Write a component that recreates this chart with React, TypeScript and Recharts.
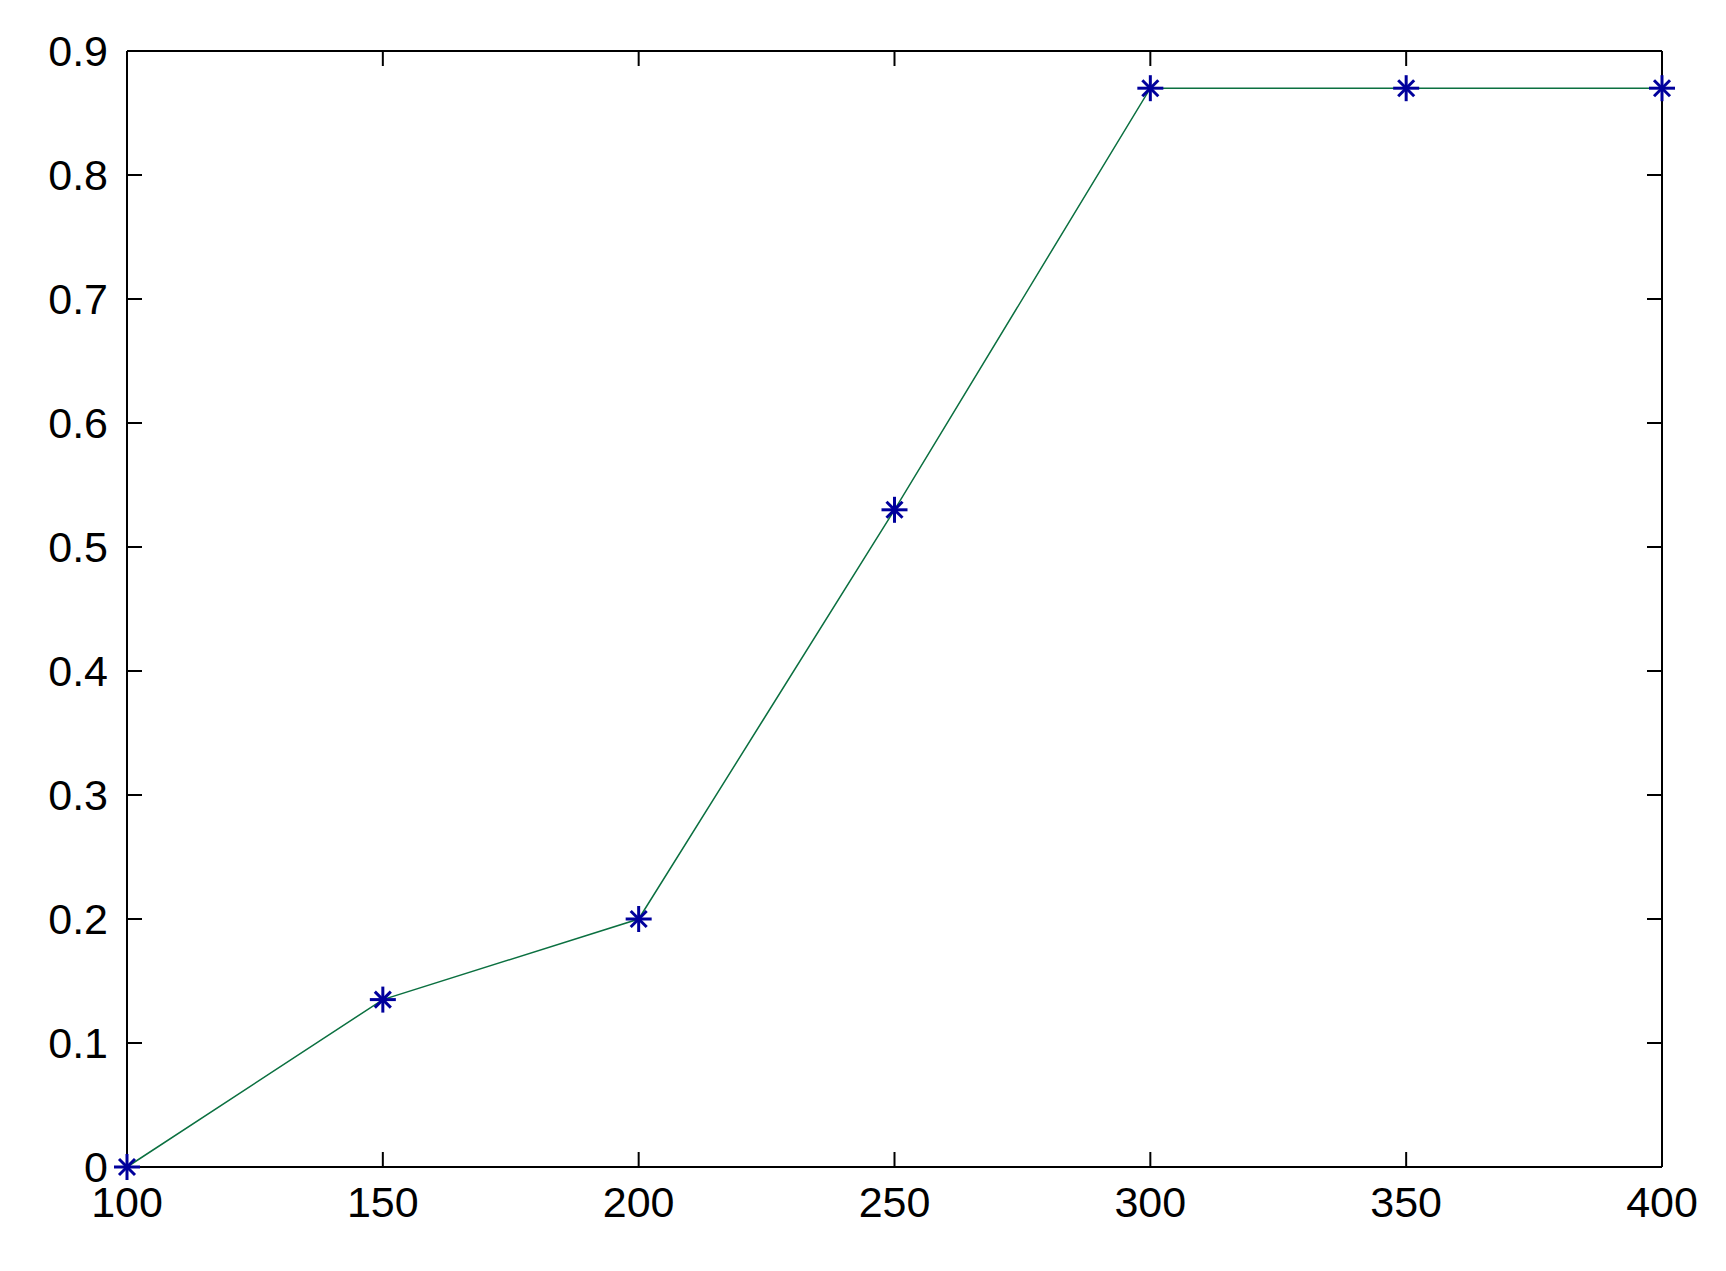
import React from 'react';
import { LineChart, Line, XAxis, YAxis, ReferenceLine } from 'recharts';

const xValues = [100, 150, 200, 250, 300, 350, 400];
const yValues = [0, 0.135, 0.2, 0.53, 0.87, 0.87, 0.87];
const xTicks = [100, 150, 200, 250, 300, 350, 400];
const yTicks = [0, 0.1, 0.2, 0.3, 0.4, 0.5, 0.6, 0.7, 0.8, 0.9];

const data = xValues.map((x, i) => ({ x, y: yValues[i] }));

const FONT = '"Liberation Sans", Arial, sans-serif';
const AXIS = { stroke: '#000', strokeWidth: 2 };
const TS = 15; // tick length in px, drawn inward

const CHART_W = 1726;
const CHART_H = 1271;
const MARGIN = { top: 51, right: 63, bottom: 0, left: 0 };
const Y_AXIS_W = 127;
const X_AXIS_H = 104;
const X_DOMAIN = [100, 400];
const Y_DOMAIN = [0, 0.9];

// tick length converted to data units, for the inward ticks on left/bottom
const plotW = CHART_W - MARGIN.left - MARGIN.right - Y_AXIS_W - 1;
const plotH = CHART_H - MARGIN.top - MARGIN.bottom - X_AXIS_H;
const xTickLen = ((X_DOMAIN[1] - X_DOMAIN[0]) * TS) / plotW;
const yTickLen = ((Y_DOMAIN[1] - Y_DOMAIN[0]) * TS) / plotH;

// asterisk marker like matlab's '*'
const StarDot = (props: any) => {
  const { cx, cy } = props;
  if (cx == null || cy == null) return null;
  const a = 13;
  const d = 8;
  return (
    <g stroke="#00009c" strokeWidth={3}>
      <line x1={cx - a} y1={cy} x2={cx + a} y2={cy} />
      <line x1={cx} y1={cy - a} x2={cx} y2={cy + a} />
      <line x1={cx - d} y1={cy - d} x2={cx + d} y2={cy + d} />
      <line x1={cx - d} y1={cy + d} x2={cx + d} y2={cy - d} />
    </g>
  );
};

// x,y from recharts sit TS outside the axis line
const BottomLabel = (props: any) => {
  const x = Number(props.x);
  const y = Number(props.y);
  return (
    <text x={x} y={y + 35} textAnchor="middle" fontFamily={FONT} fontSize={43} fill="#000">
      {props.payload.value}
    </text>
  );
};

const LeftLabel = (props: any) => {
  const x = Number(props.x);
  const y = Number(props.y);
  return (
    <text x={x - 4} y={y} dy="0.36em" textAnchor="end" fontFamily={FONT} fontSize={43} fill="#000">
      {Number(props.payload.value.toFixed(1)).toString()}
    </text>
  );
};

const RightTick = (props: any) => {
  const x = Number(props.x);
  const y = Number(props.y);
  return <line x1={x - TS} y1={y} x2={x - 2 * TS} y2={y} stroke="black" strokeWidth={2} />;
};

const NoLabel = () => <g />;

export default function App() {
  return (
    <div style={{ position: 'absolute', left: 0, top: 0, background: '#fff' }}>
      <LineChart width={CHART_W} height={CHART_H} data={data} margin={MARGIN}>
        <XAxis
          dataKey="x"
          type="number"
          domain={X_DOMAIN}
          ticks={xTicks}
          height={X_AXIS_H}
          tickSize={TS}
          tickMargin={0}
          tickLine={false}
          axisLine={AXIS}
          tick={<BottomLabel />}
          interval={0}
        />
        <XAxis
          xAxisId="top"
          dataKey="x"
          type="number"
          orientation="top"
          mirror
          domain={X_DOMAIN}
          ticks={xTicks}
          tickSize={TS}
          tickLine={AXIS}
          axisLine={AXIS}
          tick={<NoLabel />}
          interval={0}
        />
        <YAxis
          type="number"
          domain={Y_DOMAIN}
          ticks={yTicks}
          width={Y_AXIS_W}
          tickSize={TS}
          tickMargin={0}
          tickLine={false}
          axisLine={AXIS}
          tick={<LeftLabel />}
          interval={0}
        />
        <YAxis
          yAxisId="right"
          type="number"
          orientation="right"
          domain={Y_DOMAIN}
          ticks={yTicks}
          width={1}
          tickSize={TS}
          tickMargin={0}
          tickLine={false}
          axisLine={AXIS}
          tick={<RightTick />}
          interval={0}
        />
        {/* inward tick marks on the left and bottom edges */}
        {yTicks.map((v) => (
          <ReferenceLine
            key={`yt-${v}`}
            segment={[
              { x: X_DOMAIN[0], y: v },
              { x: X_DOMAIN[0] + xTickLen, y: v },
            ]}
            stroke="#000"
            strokeWidth={2}
            ifOverflow="visible"
          />
        ))}
        {xTicks.map((v) => (
          <ReferenceLine
            key={`xt-${v}`}
            segment={[
              { x: v, y: Y_DOMAIN[0] },
              { x: v, y: Y_DOMAIN[0] + yTickLen },
            ]}
            stroke="#000"
            strokeWidth={2}
            ifOverflow="visible"
          />
        ))}
        {/* invisible copy bound to the right axis so it gets its ticks */}
        <Line
          yAxisId="right"
          type="linear"
          dataKey="y"
          stroke="none"
          dot={false}
          activeDot={false}
          legendType="none"
          isAnimationActive={false}
        />
        <Line
          type="linear"
          dataKey="y"
          stroke="#0b7040"
          strokeWidth={1.5}
          dot={<StarDot />}
          activeDot={false}
          isAnimationActive={false}
        />
      </LineChart>
    </div>
  );
}
